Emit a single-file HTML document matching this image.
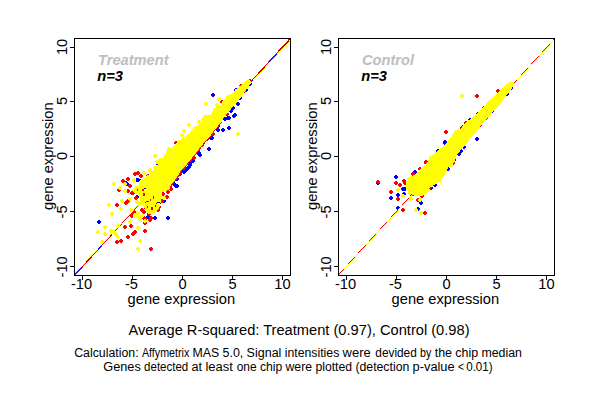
<!DOCTYPE html>
<html><head><meta charset="utf-8"><title>Scatter plots</title>
<style>
html,body{margin:0;padding:0;background:#fff;}
body{width:600px;height:400px;overflow:hidden;font-family:"Liberation Sans",sans-serif;}
svg{display:block;}
text{font-family:"Liberation Sans",sans-serif;fill:#000;}
.t{font-size:14.67px;}
.s{font-size:12px;}
.l{font-size:14.67px;font-weight:bold;font-style:italic;}
</style></head><body>
<svg width="600" height="400" viewBox="0 0 600 400">
<rect width="600" height="400" fill="#fff"/>
<defs>
<clipPath id="c74"><rect x="74" y="38" width="217" height="238"/></clipPath>
<clipPath id="cu"><rect x="160" y="122" width="70" height="66"/></clipPath>
<clipPath id="c338"><rect x="338" y="38" width="217" height="238"/></clipPath>
</defs>
<g clip-path="url(#c74)" shape-rendering="crispEdges">
<path fill="#0000ff" d="M98 220h2v1h1v2h-1v1h-2v-1h-1v-2h1zM147 215h2v1h1v2h-1v1h-2v-1h-1v-2h1zM154 216h2v1h1v2h-1v1h-2v-1h-1v-2h1zM167 216h2v1h1v2h-1v1h-2v-1h-1v-2h1zM126 182h2v1h1v2h-1v1h-2v-1h-1v-2h1zM157 162h2v1h1v2h-1v1h-2v-1h-1v-2h1zM137 178h2v1h1v2h-1v1h-2v-1h-1v-2h1zM136 195h2v1h1v2h-1v1h-2v-1h-1v-2h1zM176 184h2v1h1v2h-1v1h-2v-1h-1v-2h1zM163 199h2v1h1v2h-1v1h-2v-1h-1v-2h1zM158 201h2v1h1v2h-1v1h-2v-1h-1v-2h1zM183 170h2v1h1v2h-1v1h-2v-1h-1v-2h1zM185 168h2v1h1v2h-1v1h-2v-1h-1v-2h1zM187 166h2v1h1v2h-1v1h-2v-1h-1v-2h1zM181 168h2v1h1v2h-1v1h-2v-1h-1v-2h1zM187 166h2v1h1v2h-1v1h-2v-1h-1v-2h1zM188 165h2v1h1v2h-1v1h-2v-1h-1v-2h1zM190 160h2v1h1v2h-1v1h-2v-1h-1v-2h1zM192 159h2v1h1v2h-1v1h-2v-1h-1v-2h1zM198 152h2v1h1v2h-1v1h-2v-1h-1v-2h1zM197 149h2v1h1v2h-1v1h-2v-1h-1v-2h1zM175 184h2v1h1v2h-1v1h-2v-1h-1v-2h1zM158 162h2v1h1v2h-1v1h-2v-1h-1v-2h1zM158 162h2v1h1v2h-1v1h-2v-1h-1v-2h1zM234 113h2v1h1v2h-1v1h-2v-1h-1v-2h1zM230 109h2v1h1v2h-1v1h-2v-1h-1v-2h1zM227 116h2v1h1v2h-1v1h-2v-1h-1v-2h1zM224 117h2v1h1v2h-1v1h-2v-1h-1v-2h1zM233 114h2v1h1v2h-1v1h-2v-1h-1v-2h1zM228 126h2v1h1v2h-1v1h-2v-1h-1v-2h1zM222 128h2v1h1v2h-1v1h-2v-1h-1v-2h1zM217 128h2v1h1v2h-1v1h-2v-1h-1v-2h1zM210 136h2v1h1v2h-1v1h-2v-1h-1v-2h1zM211 136h2v1h1v2h-1v1h-2v-1h-1v-2h1zM208 147h2v1h1v2h-1v1h-2v-1h-1v-2h1zM197 150h2v1h1v2h-1v1h-2v-1h-1v-2h1zM199 153h2v1h1v2h-1v1h-2v-1h-1v-2h1zM198 151h2v1h1v2h-1v1h-2v-1h-1v-2h1zM190 160h2v1h1v2h-1v1h-2v-1h-1v-2h1zM187 166h2v1h1v2h-1v1h-2v-1h-1v-2h1zM189 163h2v1h1v2h-1v1h-2v-1h-1v-2h1zM212 93h2v1h1v2h-1v1h-2v-1h-1v-2h1zM235 88h2v1h1v2h-1v1h-2v-1h-1v-2h1zM249 82h2v1h1v2h-1v1h-2v-1h-1v-2h1zM245 88h2v1h1v2h-1v1h-2v-1h-1v-2h1zM239 96h2v1h1v2h-1v1h-2v-1h-1v-2h1zM237 102h2v1h1v2h-1v1h-2v-1h-1v-2h1zM232 106h2v1h1v2h-1v1h-2v-1h-1v-2h1zM230 108h2v1h1v2h-1v1h-2v-1h-1v-2h1zM234 113h2v1h1v2h-1v1h-2v-1h-1v-2h1zM227 116h2v1h1v2h-1v1h-2v-1h-1v-2h1zM224 117h2v1h1v2h-1v1h-2v-1h-1v-2h1zM228 116h2v1h1v2h-1v1h-2v-1h-1v-2h1zM217 124h2v1h1v2h-1v1h-2v-1h-1v-2h1zM200 123h2v1h1v2h-1v1h-2v-1h-1v-2h1zM168 152h2v1h1v2h-1v1h-2v-1h-1v-2h1zM163 157h2v1h1v2h-1v1h-2v-1h-1v-2h1zM184 166h2v1h1v2h-1v1h-2v-1h-1v-2h1zM179 172h2v1h1v2h-1v1h-2v-1h-1v-2h1zM176 177h2v1h1v2h-1v1h-2v-1h-1v-2h1zM173 182h2v1h1v2h-1v1h-2v-1h-1v-2h1zM146 186h2v1h1v2h-1v1h-2v-1h-1v-2h1zM139 179h2v1h1v2h-1v1h-2v-1h-1v-2h1zM153 170h2v1h1v2h-1v1h-2v-1h-1v-2h1zM125 181h2v1h1v2h-1v1h-2v-1h-1v-2h1zM136 178h2v1h1v2h-1v1h-2v-1h-1v-2h1z"/>
<path fill="#0000ff" d="M290 38h1v1h-1zM289 39h1v1h-1zM288 40h1v2h-1zM287 42h1v1h-1zM286 43h1v1h-1zM285 44h1v1h-1zM284 45h1v1h-1zM283 46h1v1h-1zM282 47h1v1h-1zM281 48h1v1h-1zM280 49h1v1h-1zM279 50h1v1h-1zM278 51h1v2h-1zM277 53h1v1h-1zM276 54h1v1h-1zM275 55h1v1h-1zM274 56h1v1h-1zM273 57h1v1h-1zM272 58h1v1h-1zM271 59h1v1h-1zM270 60h1v1h-1zM269 61h1v1h-1zM268 62h1v1h-1zM267 63h1v2h-1zM266 65h1v1h-1zM265 66h1v1h-1zM264 67h1v1h-1zM263 68h1v1h-1zM262 69h1v1h-1zM261 70h1v1h-1zM260 71h1v1h-1zM259 72h1v1h-1zM258 73h1v1h-1zM257 74h1v1h-1zM256 75h1v2h-1zM255 77h1v1h-1zM254 78h1v1h-1zM253 79h1v1h-1zM252 80h1v1h-1zM251 81h1v1h-1zM250 82h1v1h-1zM249 83h1v1h-1zM248 84h1v1h-1zM247 85h1v1h-1zM246 86h1v1h-1zM245 87h1v2h-1zM244 89h1v1h-1zM243 90h1v1h-1zM242 91h1v1h-1zM241 92h1v1h-1zM240 93h1v1h-1zM239 94h1v1h-1zM238 95h1v1h-1zM237 96h1v1h-1zM236 97h1v1h-1zM235 98h1v1h-1zM234 99h1v2h-1zM233 101h1v1h-1zM232 102h1v1h-1zM231 103h1v1h-1zM230 104h1v1h-1zM229 105h1v1h-1zM228 106h1v1h-1zM227 107h1v1h-1zM226 108h1v1h-1zM225 109h1v1h-1zM224 110h1v2h-1zM223 112h1v1h-1zM222 113h1v1h-1zM221 114h1v1h-1zM220 115h1v1h-1zM219 116h1v1h-1zM218 117h1v1h-1zM217 118h1v1h-1zM216 119h1v1h-1zM215 120h1v1h-1zM214 121h1v1h-1zM213 122h1v2h-1zM212 124h1v1h-1zM211 125h1v1h-1zM210 126h1v1h-1zM209 127h1v1h-1zM208 128h1v1h-1zM207 129h1v1h-1zM206 130h1v1h-1zM205 131h1v1h-1zM204 132h1v1h-1zM203 133h1v1h-1zM202 134h1v2h-1zM201 136h1v1h-1zM200 137h1v1h-1zM199 138h1v1h-1zM198 139h1v1h-1zM197 140h1v1h-1zM196 141h1v1h-1zM195 142h1v1h-1zM194 143h1v1h-1zM193 144h1v1h-1zM192 145h1v1h-1zM191 146h1v2h-1zM190 148h1v1h-1zM189 149h1v1h-1zM188 150h1v1h-1zM187 151h1v1h-1zM186 152h1v1h-1zM185 153h1v1h-1zM184 154h1v1h-1zM183 155h1v1h-1zM182 156h1v1h-1zM181 157h1v1h-1zM180 158h1v2h-1zM179 160h1v1h-1zM178 161h1v1h-1zM177 162h1v1h-1zM176 163h1v1h-1zM175 164h1v1h-1zM174 165h1v1h-1zM173 166h1v1h-1zM172 167h1v1h-1zM171 168h1v1h-1zM170 169h1v2h-1zM169 171h1v1h-1zM168 172h1v1h-1zM167 173h1v1h-1zM166 174h1v1h-1zM165 175h1v1h-1zM164 176h1v1h-1zM163 177h1v1h-1zM162 178h1v1h-1zM161 179h1v1h-1zM160 180h1v1h-1zM159 181h1v2h-1zM158 183h1v1h-1zM157 184h1v1h-1zM156 185h1v1h-1zM155 186h1v1h-1zM154 187h1v1h-1zM153 188h1v1h-1zM152 189h1v1h-1zM151 190h1v1h-1zM150 191h1v1h-1zM149 192h1v1h-1zM148 193h1v2h-1zM147 195h1v1h-1zM146 196h1v1h-1zM145 197h1v1h-1zM144 198h1v1h-1zM143 199h1v1h-1zM142 200h1v1h-1zM141 201h1v1h-1zM140 202h1v1h-1zM139 203h1v1h-1zM138 204h1v1h-1zM137 205h1v2h-1zM136 207h1v1h-1zM135 208h1v1h-1zM134 209h1v1h-1zM133 210h1v1h-1zM132 211h1v1h-1zM131 212h1v1h-1zM130 213h1v1h-1zM129 214h1v1h-1zM128 215h1v1h-1zM127 216h1v1h-1zM126 217h1v2h-1zM125 219h1v1h-1zM124 220h1v1h-1zM123 221h1v1h-1zM122 222h1v1h-1zM121 223h1v1h-1zM120 224h1v1h-1zM119 225h1v1h-1zM118 226h1v1h-1zM117 227h1v1h-1zM116 228h1v2h-1zM115 230h1v1h-1zM114 231h1v1h-1zM113 232h1v1h-1zM112 233h1v1h-1zM111 234h1v1h-1zM110 235h1v1h-1zM109 236h1v1h-1zM108 237h1v1h-1zM107 238h1v1h-1zM106 239h1v1h-1zM105 240h1v2h-1zM104 242h1v1h-1zM103 243h1v1h-1zM102 244h1v1h-1zM101 245h1v1h-1zM100 246h1v1h-1zM99 247h1v1h-1zM98 248h1v1h-1zM97 249h1v1h-1zM96 250h1v1h-1zM95 251h1v1h-1zM94 252h1v2h-1zM93 254h1v1h-1zM92 255h1v1h-1zM91 256h1v1h-1zM90 257h1v1h-1zM89 258h1v1h-1zM88 259h1v1h-1zM87 260h1v1h-1zM86 261h1v1h-1zM85 262h1v1h-1zM84 263h1v1h-1zM83 264h1v2h-1zM82 266h1v1h-1zM81 267h1v1h-1zM80 268h1v1h-1zM79 269h1v1h-1zM78 270h1v1h-1zM77 271h1v1h-1zM76 272h1v1h-1zM75 273h1v1h-1zM74 274h1v1h-1zM73 275h1v1h-1z"/>
<path fill="#ff0000" d="M116 240h2v1h1v2h-1v1h-2v-1h-1v-2h1zM120 239h2v1h1v2h-1v1h-2v-1h-1v-2h1zM124 225h2v1h1v2h-1v1h-2v-1h-1v-2h1zM130 224h2v1h1v2h-1v1h-2v-1h-1v-2h1zM127 235h2v1h1v2h-1v1h-2v-1h-1v-2h1zM132 232h2v1h1v2h-1v1h-2v-1h-1v-2h1zM134 230h2v1h1v2h-1v1h-2v-1h-1v-2h1zM133 231h2v1h1v2h-1v1h-2v-1h-1v-2h1zM144 229h2v1h1v2h-1v1h-2v-1h-1v-2h1zM150 247h2v1h1v2h-1v1h-2v-1h-1v-2h1zM131 214h2v1h1v2h-1v1h-2v-1h-1v-2h1zM144 217h2v1h1v2h-1v1h-2v-1h-1v-2h1zM149 218h2v1h1v2h-1v1h-2v-1h-1v-2h1zM144 221h2v1h1v2h-1v1h-2v-1h-1v-2h1zM150 216h2v1h1v2h-1v1h-2v-1h-1v-2h1zM122 179h2v1h1v2h-1v1h-2v-1h-1v-2h1zM127 177h2v1h1v2h-1v1h-2v-1h-1v-2h1zM129 184h2v1h1v2h-1v1h-2v-1h-1v-2h1zM118 188h2v1h1v2h-1v1h-2v-1h-1v-2h1zM134 172h2v1h1v2h-1v1h-2v-1h-1v-2h1zM137 171h2v1h1v2h-1v1h-2v-1h-1v-2h1zM140 174h2v1h1v2h-1v1h-2v-1h-1v-2h1zM147 174h2v1h1v2h-1v1h-2v-1h-1v-2h1zM116 203h2v1h1v2h-1v1h-2v-1h-1v-2h1zM125 201h2v1h1v2h-1v1h-2v-1h-1v-2h1zM127 199h2v1h1v2h-1v1h-2v-1h-1v-2h1zM133 188h2v1h1v2h-1v1h-2v-1h-1v-2h1zM132 191h2v1h1v2h-1v1h-2v-1h-1v-2h1zM131 213h2v1h1v2h-1v1h-2v-1h-1v-2h1zM166 195h2v1h1v2h-1v1h-2v-1h-1v-2h1zM175 141h2v1h1v2h-1v1h-2v-1h-1v-2h1zM180 140h2v1h1v2h-1v1h-2v-1h-1v-2h1zM212 132h2v1h1v2h-1v1h-2v-1h-1v-2h1zM193 156h2v1h1v2h-1v1h-2v-1h-1v-2h1zM221 100h2v1h1v2h-1v1h-2v-1h-1v-2h1zM240 84h2v1h1v2h-1v1h-2v-1h-1v-2h1zM226 112h2v1h1v2h-1v1h-2v-1h-1v-2h1zM153 170h2v1h1v2h-1v1h-2v-1h-1v-2h1zM127 177h2v1h1v2h-1v1h-2v-1h-1v-2h1zM127 189h2v1h1v2h-1v1h-2v-1h-1v-2h1zM131 191h2v1h1v2h-1v1h-2v-1h-1v-2h1zM162 192h2v1h1v2h-1v1h-2v-1h-1v-2h1zM170 187h2v1h1v2h-1v1h-2v-1h-1v-2h1zM193 156h2v1h1v2h-1v1h-2v-1h-1v-2h1zM170 187h2v1h1v2h-1v1h-2v-1h-1v-2h1zM135 196h2v1h1v2h-1v1h-2v-1h-1v-2h1zM141 208h2v1h1v2h-1v1h-2v-1h-1v-2h1zM143 210h2v1h1v2h-1v1h-2v-1h-1v-2h1zM133 210h2v1h1v2h-1v1h-2v-1h-1v-2h1zM143 216h2v1h1v2h-1v1h-2v-1h-1v-2h1zM148 212h2v1h1v2h-1v1h-2v-1h-1v-2h1zM151 205h2v1h1v2h-1v1h-2v-1h-1v-2h1zM157 208h2v1h1v2h-1v1h-2v-1h-1v-2h1zM145 200h2v1h1v2h-1v1h-2v-1h-1v-2h1zM143 192h2v1h1v2h-1v1h-2v-1h-1v-2h1zM143 188h2v1h1v2h-1v1h-2v-1h-1v-2h1zM206 137h2v1h1v2h-1v1h-2v-1h-1v-2h1zM201 143h2v1h1v2h-1v1h-2v-1h-1v-2h1zM197 148h2v1h1v2h-1v1h-2v-1h-1v-2h1zM189 158h2v1h1v2h-1v1h-2v-1h-1v-2h1zM183 166h2v1h1v2h-1v1h-2v-1h-1v-2h1zM179 171h2v1h1v2h-1v1h-2v-1h-1v-2h1zM175 176h2v1h1v2h-1v1h-2v-1h-1v-2h1zM171 181h2v1h1v2h-1v1h-2v-1h-1v-2h1zM249 79h2v1h1v2h-1v1h-2v-1h-1v-2h1zM141 183h2v1h1v2h-1v1h-2v-1h-1v-2h1zM138 188h2v1h1v2h-1v1h-2v-1h-1v-2h1zM140 194h2v1h1v2h-1v1h-2v-1h-1v-2h1zM142 200h2v1h1v2h-1v1h-2v-1h-1v-2h1zM145 206h2v1h1v2h-1v1h-2v-1h-1v-2h1zM159 200h2v1h1v2h-1v1h-2v-1h-1v-2h1zM158 205h2v1h1v2h-1v1h-2v-1h-1v-2h1zM167 190h2v1h1v2h-1v1h-2v-1h-1v-2h1zM169 184h2v1h1v2h-1v1h-2v-1h-1v-2h1zM243 89h2v1h1v2h-1v1h-2v-1h-1v-2h1zM161 199h2v1h1v2h-1v1h-2v-1h-1v-2h1z"/>
<path fill="#ff0000" d="M289 38h1v1h-1zM288 39h1v2h-1zM287 41h1v1h-1zM286 42h1v1h-1zM285 43h1v1h-1zM284 44h1v1h-1zM283 45h1v1h-1zM282 46h1v1h-1zM281 47h1v1h-1zM280 48h1v1h-1zM279 49h1v1h-1zM278 50h1v2h-1zM277 52h1v1h-1zM276 53h1v1h-1zM275 54h1v1h-1zM274 55h1v1h-1zM273 56h1v1h-1zM272 57h1v1h-1zM271 58h1v1h-1zM270 59h1v1h-1zM269 60h1v1h-1zM268 61h1v2h-1zM267 63h1v1h-1zM266 64h1v1h-1zM265 65h1v1h-1zM264 66h1v1h-1zM263 67h1v1h-1zM262 68h1v1h-1zM261 69h1v1h-1zM260 70h1v1h-1zM259 71h1v1h-1zM258 72h1v2h-1zM257 74h1v1h-1zM256 75h1v1h-1zM255 76h1v1h-1zM254 77h1v1h-1zM253 78h1v1h-1zM252 79h1v1h-1zM251 80h1v1h-1zM250 81h1v1h-1zM249 82h1v1h-1zM248 83h1v2h-1zM247 85h1v1h-1zM246 86h1v1h-1zM245 87h1v1h-1zM244 88h1v1h-1zM243 89h1v1h-1zM242 90h1v1h-1zM241 91h1v1h-1zM240 92h1v1h-1zM239 93h1v2h-1zM238 95h1v1h-1zM237 96h1v1h-1zM236 97h1v1h-1zM235 98h1v1h-1zM234 99h1v1h-1zM233 100h1v1h-1zM232 101h1v1h-1zM231 102h1v1h-1zM230 103h1v1h-1zM229 104h1v2h-1zM228 106h1v1h-1zM227 107h1v1h-1zM226 108h1v1h-1zM225 109h1v1h-1zM224 110h1v1h-1zM223 111h1v1h-1zM222 112h1v1h-1zM221 113h1v1h-1zM220 114h1v1h-1zM219 115h1v2h-1zM218 117h1v1h-1zM217 118h1v1h-1zM216 119h1v1h-1zM215 120h1v1h-1zM214 121h1v1h-1zM213 122h1v1h-1zM212 123h1v1h-1zM211 124h1v1h-1zM210 125h1v1h-1zM209 126h1v2h-1zM208 128h1v1h-1zM207 129h1v1h-1zM206 130h1v1h-1zM205 131h1v1h-1zM204 132h1v1h-1zM203 133h1v1h-1zM202 134h1v1h-1zM201 135h1v1h-1zM200 136h1v1h-1zM199 137h1v2h-1zM198 139h1v1h-1zM197 140h1v1h-1zM196 141h1v1h-1zM195 142h1v1h-1zM194 143h1v1h-1zM193 144h1v1h-1zM192 145h1v1h-1zM191 146h1v1h-1zM190 147h1v2h-1zM189 149h1v1h-1zM188 150h1v1h-1zM187 151h1v1h-1zM186 152h1v1h-1zM185 153h1v1h-1zM184 154h1v1h-1zM183 155h1v1h-1zM182 156h1v1h-1zM181 157h1v1h-1zM180 158h1v2h-1zM179 160h1v1h-1zM178 161h1v1h-1zM177 162h1v1h-1zM176 163h1v1h-1zM175 164h1v1h-1zM174 165h1v1h-1zM173 166h1v1h-1zM172 167h1v1h-1zM171 168h1v1h-1zM170 169h1v2h-1zM169 171h1v1h-1zM168 172h1v1h-1zM167 173h1v1h-1zM166 174h1v1h-1zM165 175h1v1h-1zM164 176h1v1h-1zM163 177h1v1h-1zM162 178h1v1h-1zM161 179h1v1h-1zM160 180h1v2h-1zM159 182h1v1h-1zM158 183h1v1h-1zM157 184h1v1h-1zM156 185h1v1h-1zM155 186h1v1h-1zM154 187h1v1h-1zM153 188h1v1h-1zM152 189h1v1h-1zM151 190h1v1h-1zM150 191h1v2h-1zM149 193h1v1h-1zM148 194h1v1h-1zM147 195h1v1h-1zM146 196h1v1h-1zM145 197h1v1h-1zM144 198h1v1h-1zM143 199h1v1h-1zM142 200h1v1h-1zM141 201h1v1h-1zM140 202h1v2h-1zM139 204h1v1h-1zM138 205h1v1h-1zM137 206h1v1h-1zM136 207h1v1h-1zM135 208h1v1h-1zM134 209h1v1h-1zM133 210h1v1h-1zM132 211h1v1h-1zM131 212h1v2h-1zM130 214h1v1h-1zM129 215h1v1h-1zM128 216h1v1h-1zM127 217h1v1h-1zM126 218h1v1h-1zM125 219h1v1h-1zM124 220h1v1h-1zM123 221h1v1h-1zM122 222h1v1h-1zM121 223h1v2h-1zM120 225h1v1h-1zM119 226h1v1h-1zM118 227h1v1h-1zM117 228h1v1h-1zM116 229h1v1h-1zM115 230h1v1h-1zM114 231h1v1h-1zM113 232h1v1h-1zM112 233h1v1h-1zM111 234h1v2h-1zM110 236h1v1h-1zM109 237h1v1h-1zM108 238h1v1h-1zM107 239h1v1h-1zM106 240h1v1h-1zM105 241h1v1h-1zM104 242h1v1h-1zM103 243h1v1h-1zM102 244h1v1h-1zM101 245h1v2h-1zM100 247h1v1h-1zM99 248h1v1h-1zM98 249h1v1h-1zM97 250h1v1h-1zM96 251h1v1h-1zM95 252h1v1h-1zM94 253h1v1h-1zM93 254h1v1h-1zM92 255h1v1h-1zM91 256h1v2h-1zM90 258h1v1h-1zM89 259h1v1h-1zM88 260h1v1h-1zM87 261h1v1h-1zM86 262h1v1h-1zM85 263h1v1h-1zM84 264h1v1h-1zM83 265h1v1h-1zM82 266h1v2h-1zM81 268h1v1h-1zM80 269h1v1h-1zM79 270h1v1h-1zM78 271h1v1h-1zM77 272h1v1h-1zM76 273h1v1h-1zM75 274h1v1h-1zM74 275h1v1h-1z"/>
<polygon clip-path="url(#cu)" fill="#ff0000" points="150.8,214.7 149.7,214.2 147.9,211.9 147,209.3 144.8,206.2 142.7,203.2 141.3,198.7 140,194.45 139.3,189.7 141.3,184.7 140.3,182.2 145.05,179.45 150.05,175.7 154.4,171.95 158.2,166.95 162.3,161.7 166.3,156.7 168.8,151.2 173.8,148.2 178.8,143.8 181.3,141.3 186.3,137.6 191.3,134.45 195.05,128.2 201.3,125.1 203.8,120.7 207.55,116.7 212.3,115.7 215.7,109.45 222.55,105.7 224.4,101.95 228.8,96.95 233.8,94.45 237.55,90.1 242.55,86.3 247.55,81.3 250.05,80.7 251.8,82.2 249.5,86.95 245.8,91.95 242.1,97.6 238.3,101.95 234.6,106.3 230.8,110.7 227.7,114.45 223.9,119.45 223.1,120.7 219.5,125.7 214.5,131.3 210.8,136.95 205.8,141.95 200.8,148.2 197,153.2 195.3,155.7 190.8,160.7 186.8,165.7 182,170.7 179.3,175.7 175.6,180.7 171.8,185.7 170.3,189.7 166.8,191.2 162.8,192.2 162.3,198.7 161.9,203.2 160.8,206.7 159.3,209.3 157.5,211.9 154.3,213.7 152.3,214.6"/>
<polygon fill="#ffff00" stroke="#ffff00" stroke-width="1" stroke-linejoin="round" points="149.5,214 148.4,213.5 146.6,211.2 145.7,208.6 143.5,205.5 141.4,202.5 140,198 138.7,193.75 138,189 140,184 139,181.5 143.75,178.75 148.75,175 153.1,171.25 156.9,166.25 161,161 165,156 167.5,150.5 172.5,147.5 177.5,143.1 180,140.6 185,136.9 190,133.75 193.75,127.5 200,124.4 202.5,120 206.25,116 211,115 214.4,108.75 221.25,105 223.1,101.25 227.5,96.25 232.5,93.75 236.25,89.4 241.25,85.6 246.25,80.6 248.75,80 250.5,81.5 248.2,86.25 244.5,91.25 240.8,96.9 237,101.25 233.3,105.6 229.5,110 226.4,113.75 222.6,118.75 221.8,120 218.2,125 213.2,130.6 209.5,136.25 204.5,141.25 199.5,147.5 195.7,152.5 194,155 189.5,160 185.5,165 180.7,170 178,175 174.3,180 170.5,185 169,189 165.5,190.5 161.5,191.5 161,198 160.6,202.5 159.5,206 158,208.6 156.2,211.2 153,213 151,213.9"/>
<path fill="#ffff00" d="M104 225h2v1h1v2h-1v1h-2v-1h-1v-2h1zM97 230h2v1h1v2h-1v1h-2v-1h-1v-2h1zM104 232h2v1h1v2h-1v1h-2v-1h-1v-2h1zM110 229h2v1h1v2h-1v1h-2v-1h-1v-2h1zM113 231h2v1h1v2h-1v1h-2v-1h-1v-2h1zM115 232h2v1h1v2h-1v1h-2v-1h-1v-2h1zM117 224h2v1h1v2h-1v1h-2v-1h-1v-2h1zM117 235h2v1h1v2h-1v1h-2v-1h-1v-2h1zM101 240h2v1h1v2h-1v1h-2v-1h-1v-2h1zM129 220h2v1h1v2h-1v1h-2v-1h-1v-2h1zM137 226h2v1h1v2h-1v1h-2v-1h-1v-2h1zM139 239h2v1h1v2h-1v1h-2v-1h-1v-2h1zM137 247h2v1h1v2h-1v1h-2v-1h-1v-2h1zM134 214h2v1h1v2h-1v1h-2v-1h-1v-2h1zM139 217h2v1h1v2h-1v1h-2v-1h-1v-2h1zM144 219h2v1h1v2h-1v1h-2v-1h-1v-2h1zM113 182h2v1h1v2h-1v1h-2v-1h-1v-2h1zM124 182h2v1h1v2h-1v1h-2v-1h-1v-2h1zM119 186h2v1h1v2h-1v1h-2v-1h-1v-2h1zM124 189h2v1h1v2h-1v1h-2v-1h-1v-2h1zM143 171h2v1h1v2h-1v1h-2v-1h-1v-2h1zM149 168h2v1h1v2h-1v1h-2v-1h-1v-2h1zM154 166h2v1h1v2h-1v1h-2v-1h-1v-2h1zM156 160h2v1h1v2h-1v1h-2v-1h-1v-2h1zM133 178h2v1h1v2h-1v1h-2v-1h-1v-2h1zM108 203h2v1h1v2h-1v1h-2v-1h-1v-2h1zM121 199h2v1h1v2h-1v1h-2v-1h-1v-2h1zM129 197h2v1h1v2h-1v1h-2v-1h-1v-2h1zM120 207h2v1h1v2h-1v1h-2v-1h-1v-2h1zM111 212h2v1h1v2h-1v1h-2v-1h-1v-2h1zM130 208h2v1h1v2h-1v1h-2v-1h-1v-2h1zM134 213h2v1h1v2h-1v1h-2v-1h-1v-2h1zM139 215h2v1h1v2h-1v1h-2v-1h-1v-2h1zM188 123h2v1h1v2h-1v1h-2v-1h-1v-2h1zM198 120h2v1h1v2h-1v1h-2v-1h-1v-2h1zM205 115h2v1h1v2h-1v1h-2v-1h-1v-2h1zM202 118h2v1h1v2h-1v1h-2v-1h-1v-2h1zM183 129h2v1h1v2h-1v1h-2v-1h-1v-2h1zM181 133h2v1h1v2h-1v1h-2v-1h-1v-2h1zM178 140h2v1h1v2h-1v1h-2v-1h-1v-2h1zM168 147h2v1h1v2h-1v1h-2v-1h-1v-2h1zM154 154h2v1h1v2h-1v1h-2v-1h-1v-2h1zM159 158h2v1h1v2h-1v1h-2v-1h-1v-2h1zM156 160h2v1h1v2h-1v1h-2v-1h-1v-2h1zM165 154h2v1h1v2h-1v1h-2v-1h-1v-2h1zM154 166h2v1h1v2h-1v1h-2v-1h-1v-2h1zM149 169h2v1h1v2h-1v1h-2v-1h-1v-2h1zM143 171h2v1h1v2h-1v1h-2v-1h-1v-2h1zM133 179h2v1h1v2h-1v1h-2v-1h-1v-2h1zM124 182h2v1h1v2h-1v1h-2v-1h-1v-2h1zM133 188h2v1h1v2h-1v1h-2v-1h-1v-2h1zM135 190h2v1h1v2h-1v1h-2v-1h-1v-2h1zM129 197h2v1h1v2h-1v1h-2v-1h-1v-2h1zM237 132h2v1h1v2h-1v1h-2v-1h-1v-2h1zM218 97h2v1h1v2h-1v1h-2v-1h-1v-2h1zM205 102h2v1h1v2h-1v1h-2v-1h-1v-2h1zM216 103h2v1h1v2h-1v1h-2v-1h-1v-2h1zM227 95h2v1h1v2h-1v1h-2v-1h-1v-2h1zM204 115h2v1h1v2h-1v1h-2v-1h-1v-2h1zM198 120h2v1h1v2h-1v1h-2v-1h-1v-2h1zM133 188h2v1h1v2h-1v1h-2v-1h-1v-2h1zM135 186h2v1h1v2h-1v1h-2v-1h-1v-2h1zM121 199h2v1h1v2h-1v1h-2v-1h-1v-2h1zM136 200h2v1h1v2h-1v1h-2v-1h-1v-2h1zM138 202h2v1h1v2h-1v1h-2v-1h-1v-2h1zM163 196h2v1h1v2h-1v1h-2v-1h-1v-2h1zM137 211h2v1h1v2h-1v1h-2v-1h-1v-2h1zM141 214h2v1h1v2h-1v1h-2v-1h-1v-2h1zM139 216h2v1h1v2h-1v1h-2v-1h-1v-2h1z"/>
<path fill="#ffff00" d="M291 38h1v1h-1zM290 39h1v1h-1zM289 40h1v2h-1zM288 42h1v1h-1zM287 43h1v1h-1zM286 44h1v1h-1zM285 45h1v1h-1zM284 46h1v1h-1zM283 47h1v1h-1zM282 48h1v1h-1zM281 49h1v1h-1zM280 50h1v1h-1zM279 51h1v1h-1zM278 52h1v1h-1zM277 53h1v2h-1zM276 55h1v1h-1zM275 56h1v1h-1zM274 57h1v1h-1zM273 58h1v1h-1zM272 59h1v1h-1zM271 60h1v1h-1zM270 61h1v1h-1zM269 62h1v1h-1zM268 63h1v1h-1zM267 64h1v1h-1zM266 65h1v1h-1zM265 66h1v2h-1zM264 68h1v1h-1zM263 69h1v1h-1zM262 70h1v1h-1zM261 71h1v1h-1zM260 72h1v1h-1zM259 73h1v1h-1zM258 74h1v1h-1zM257 75h1v1h-1zM256 76h1v1h-1zM255 77h1v1h-1zM254 78h1v1h-1zM253 79h1v2h-1zM252 81h1v1h-1zM251 82h1v1h-1zM250 83h1v1h-1zM249 84h1v1h-1zM248 85h1v1h-1zM247 86h1v1h-1zM246 87h1v1h-1zM245 88h1v1h-1zM244 89h1v1h-1zM243 90h1v1h-1zM242 91h1v1h-1zM241 92h1v2h-1zM240 94h1v1h-1zM239 95h1v1h-1zM238 96h1v1h-1zM237 97h1v1h-1zM236 98h1v1h-1zM235 99h1v1h-1zM234 100h1v1h-1zM233 101h1v1h-1zM232 102h1v1h-1zM231 103h1v1h-1zM230 104h1v1h-1zM229 105h1v2h-1zM228 107h1v1h-1zM227 108h1v1h-1zM226 109h1v1h-1zM225 110h1v1h-1zM224 111h1v1h-1zM223 112h1v1h-1zM222 113h1v1h-1zM221 114h1v1h-1zM220 115h1v1h-1zM219 116h1v1h-1zM218 117h1v1h-1zM217 118h1v2h-1zM216 120h1v1h-1zM215 121h1v1h-1zM214 122h1v1h-1zM213 123h1v1h-1zM212 124h1v1h-1zM211 125h1v1h-1zM210 126h1v1h-1zM209 127h1v1h-1zM208 128h1v1h-1zM207 129h1v1h-1zM206 130h1v1h-1zM205 131h1v2h-1zM204 133h1v1h-1zM203 134h1v1h-1zM202 135h1v1h-1zM201 136h1v1h-1zM200 137h1v1h-1zM199 138h1v1h-1zM198 139h1v1h-1zM197 140h1v1h-1zM196 141h1v1h-1zM195 142h1v1h-1zM194 143h1v1h-1zM193 144h1v2h-1zM192 146h1v1h-1zM191 147h1v1h-1zM190 148h1v1h-1zM189 149h1v1h-1zM188 150h1v1h-1zM187 151h1v1h-1zM186 152h1v1h-1zM185 153h1v1h-1zM184 154h1v1h-1zM183 155h1v1h-1zM182 156h1v1h-1zM181 157h1v2h-1zM180 159h1v1h-1zM179 160h1v1h-1zM178 161h1v1h-1zM177 162h1v1h-1zM176 163h1v1h-1zM175 164h1v1h-1zM174 165h1v1h-1zM173 166h1v1h-1zM172 167h1v1h-1zM171 168h1v1h-1zM170 169h1v1h-1zM169 170h1v2h-1zM168 172h1v1h-1zM167 173h1v1h-1zM166 174h1v1h-1zM165 175h1v1h-1zM164 176h1v1h-1zM163 177h1v1h-1zM162 178h1v1h-1zM161 179h1v1h-1zM160 180h1v1h-1zM159 181h1v1h-1zM158 182h1v1h-1zM157 183h1v2h-1zM156 185h1v1h-1zM155 186h1v1h-1zM154 187h1v1h-1zM153 188h1v1h-1zM152 189h1v1h-1zM151 190h1v1h-1zM150 191h1v1h-1zM149 192h1v1h-1zM148 193h1v1h-1zM147 194h1v1h-1zM146 195h1v1h-1zM145 196h1v2h-1zM144 198h1v1h-1zM143 199h1v1h-1zM142 200h1v1h-1zM141 201h1v1h-1zM140 202h1v1h-1zM139 203h1v1h-1zM138 204h1v1h-1zM137 205h1v1h-1zM136 206h1v1h-1zM135 207h1v1h-1zM134 208h1v1h-1zM133 209h1v2h-1zM132 211h1v1h-1zM131 212h1v1h-1zM130 213h1v1h-1zM129 214h1v1h-1zM128 215h1v1h-1zM127 216h1v1h-1zM126 217h1v1h-1zM125 218h1v1h-1zM124 219h1v1h-1zM123 220h1v1h-1zM122 221h1v1h-1zM121 222h1v2h-1zM120 224h1v1h-1zM119 225h1v1h-1zM118 226h1v1h-1zM117 227h1v1h-1zM116 228h1v1h-1zM115 229h1v1h-1zM114 230h1v1h-1zM113 231h1v1h-1zM112 232h1v1h-1zM111 233h1v1h-1zM110 234h1v1h-1zM109 235h1v2h-1zM108 237h1v1h-1zM107 238h1v1h-1zM106 239h1v1h-1zM105 240h1v1h-1zM104 241h1v1h-1zM103 242h1v1h-1zM102 243h1v1h-1zM101 244h1v1h-1zM100 245h1v1h-1zM99 246h1v1h-1zM98 247h1v1h-1zM97 248h1v2h-1zM96 250h1v1h-1zM95 251h1v1h-1zM94 252h1v1h-1zM93 253h1v1h-1zM92 254h1v1h-1zM91 255h1v1h-1zM90 256h1v1h-1zM89 257h1v1h-1zM88 258h1v1h-1zM87 259h1v1h-1zM86 260h1v1h-1zM85 261h1v2h-1zM84 263h1v1h-1zM83 264h1v1h-1zM82 265h1v1h-1zM81 266h1v1h-1zM80 267h1v1h-1zM79 268h1v1h-1zM78 269h1v1h-1zM77 270h1v1h-1zM76 271h1v1h-1zM75 272h1v1h-1zM74 273h1v1h-1zM73 274h1v2h-1z"/>
<rect x="142" y="189" width="2" height="2" fill="#ff0000"/><rect x="144" y="188" width="2" height="1" fill="#0000ff"/><rect x="143" y="193" width="2" height="3" fill="#ff0000"/><rect x="153" y="196" width="1" height="3" fill="#ff0000"/><rect x="146" y="201" width="3" height="1" fill="#ff0000"/><rect x="145" y="202" width="1" height="1" fill="#ff0000"/><rect x="151" y="207" width="2" height="3" fill="#ff0000"/><rect x="157" y="202" width="3" height="1" fill="#0000ff"/><rect x="156" y="203" width="1" height="1" fill="#0000ff"/><rect x="160" y="203" width="1" height="1" fill="#0000ff"/><rect x="148" y="191" width="1" height="1" fill="#fff"/><rect x="150" y="199" width="1" height="2" fill="#ff0000"/><rect x="155" y="205" width="1" height="2" fill="#ff0000"/><rect x="147" y="206" width="1" height="2" fill="#ff0000"/>
</g>
<rect x="74.5" y="38.5" width="216" height="237" fill="none" stroke="#000" stroke-width="1" shape-rendering="crispEdges"/>
<rect x="282" y="276" width="1" height="4" fill="#000"/>
<rect x="70" y="47" width="4" height="1" fill="#000"/>
<text x="282.50" y="288.8" text-anchor="middle" class="t">10</text>
<text transform="translate(66.6,46.90) rotate(-90)" text-anchor="middle" class="t">10</text>
<rect x="232" y="276" width="1" height="4" fill="#000"/>
<rect x="70" y="101" width="4" height="1" fill="#000"/>
<text x="232.50" y="288.8" text-anchor="middle" class="t">5</text>
<text transform="translate(66.6,100.90) rotate(-90)" text-anchor="middle" class="t">5</text>
<rect x="182" y="276" width="1" height="4" fill="#000"/>
<rect x="70" y="156" width="4" height="1" fill="#000"/>
<text x="182.50" y="288.8" text-anchor="middle" class="t">0</text>
<text transform="translate(66.6,155.90) rotate(-90)" text-anchor="middle" class="t">0</text>
<rect x="132" y="276" width="1" height="4" fill="#000"/>
<rect x="70" y="211" width="4" height="1" fill="#000"/>
<text x="131.50" y="288.8" text-anchor="middle" class="t">-5</text>
<text transform="translate(66.6,211.90) rotate(-90)" text-anchor="middle" class="t">-5</text>
<rect x="82" y="276" width="1" height="4" fill="#000"/>
<rect x="70" y="266" width="4" height="1" fill="#000"/>
<text x="81.50" y="288.8" text-anchor="middle" class="t">-10</text>
<text transform="translate(66.6,266.90) rotate(-90)" text-anchor="middle" class="t">-10</text>
<text x="181.40" y="304" text-anchor="middle" class="t">gene expression</text>
<text transform="translate(53.2,156.2) rotate(-90)" text-anchor="middle" class="t">gene expression</text>
<g clip-path="url(#c338)" shape-rendering="crispEdges">
<path fill="#0000ff" d="M377 181h2v1h1v2h-1v1h-2v-1h-1v-2h1zM395 175h2v1h1v2h-1v1h-2v-1h-1v-2h1zM402 187h2v1h1v2h-1v1h-2v-1h-1v-2h1zM404 187h2v1h1v2h-1v1h-2v-1h-1v-2h1zM397 193h2v1h1v2h-1v1h-2v-1h-1v-2h1zM390 196h2v1h1v2h-1v1h-2v-1h-1v-2h1zM403 192h2v1h1v2h-1v1h-2v-1h-1v-2h1zM397 206h2v1h1v2h-1v1h-2v-1h-1v-2h1zM417 207h2v1h1v2h-1v1h-2v-1h-1v-2h1zM420 201h2v1h1v2h-1v1h-2v-1h-1v-2h1zM414 170h2v1h1v2h-1v1h-2v-1h-1v-2h1zM437 149h2v1h1v2h-1v1h-2v-1h-1v-2h1zM444 141h2v1h1v2h-1v1h-2v-1h-1v-2h1zM437 149h2v1h1v2h-1v1h-2v-1h-1v-2h1zM434 183h2v1h1v2h-1v1h-2v-1h-1v-2h1zM430 186h2v1h1v2h-1v1h-2v-1h-1v-2h1zM443 170h2v1h1v2h-1v1h-2v-1h-1v-2h1zM447 167h2v1h1v2h-1v1h-2v-1h-1v-2h1zM458 152h2v1h1v2h-1v1h-2v-1h-1v-2h1zM476 137h2v1h1v2h-1v1h-2v-1h-1v-2h1zM463 145h2v1h1v2h-1v1h-2v-1h-1v-2h1zM460 149h2v1h1v2h-1v1h-2v-1h-1v-2h1zM458 151h2v1h1v2h-1v1h-2v-1h-1v-2h1zM469 118h2v1h1v2h-1v1h-2v-1h-1v-2h1zM462 125h2v1h1v2h-1v1h-2v-1h-1v-2h1zM506 92h2v1h1v2h-1v1h-2v-1h-1v-2h1zM510 86h2v1h1v2h-1v1h-2v-1h-1v-2h1zM491 109h2v1h1v2h-1v1h-2v-1h-1v-2h1zM477 112h2v1h1v2h-1v1h-2v-1h-1v-2h1zM469 118h2v1h1v2h-1v1h-2v-1h-1v-2h1zM444 140h2v1h1v2h-1v1h-2v-1h-1v-2h1zM463 145h2v1h1v2h-1v1h-2v-1h-1v-2h1zM453 158h2v1h1v2h-1v1h-2v-1h-1v-2h1zM439 176h2v1h1v2h-1v1h-2v-1h-1v-2h1zM409 178h2v1h1v2h-1v1h-2v-1h-1v-2h1zM417 173h2v1h1v2h-1v1h-2v-1h-1v-2h1z"/>

<path fill="#ff0000" d="M377 180h2v1h1v2h-1v1h-2v-1h-1v-2h1zM395 181h2v1h1v2h-1v1h-2v-1h-1v-2h1zM399 183h2v1h1v2h-1v1h-2v-1h-1v-2h1zM403 179h2v1h1v2h-1v1h-2v-1h-1v-2h1zM404 181h2v1h1v2h-1v1h-2v-1h-1v-2h1zM390 190h2v1h1v2h-1v1h-2v-1h-1v-2h1zM397 197h2v1h1v2h-1v1h-2v-1h-1v-2h1zM402 208h2v1h1v2h-1v1h-2v-1h-1v-2h1zM424 211h2v1h1v2h-1v1h-2v-1h-1v-2h1zM412 192h2v1h1v2h-1v1h-2v-1h-1v-2h1zM412 172h2v1h1v2h-1v1h-2v-1h-1v-2h1zM419 167h2v1h1v2h-1v1h-2v-1h-1v-2h1zM425 161h2v1h1v2h-1v1h-2v-1h-1v-2h1zM445 130h2v1h1v2h-1v1h-2v-1h-1v-2h1zM476 94h2v1h1v2h-1v1h-2v-1h-1v-2h1zM497 89h2v1h1v2h-1v1h-2v-1h-1v-2h1zM425 160h2v1h1v2h-1v1h-2v-1h-1v-2h1zM437 151h2v1h1v2h-1v1h-2v-1h-1v-2h1zM429 185h2v1h1v2h-1v1h-2v-1h-1v-2h1zM442 172h2v1h1v2h-1v1h-2v-1h-1v-2h1zM456 148h2v1h1v2h-1v1h-2v-1h-1v-2h1zM469 134h2v1h1v2h-1v1h-2v-1h-1v-2h1zM479 123h2v1h1v2h-1v1h-2v-1h-1v-2h1zM497 102h2v1h1v2h-1v1h-2v-1h-1v-2h1zM485 116h2v1h1v2h-1v1h-2v-1h-1v-2h1zM452 161h2v1h1v2h-1v1h-2v-1h-1v-2h1zM461 126h2v1h1v2h-1v1h-2v-1h-1v-2h1zM465 121h2v1h1v2h-1v1h-2v-1h-1v-2h1zM483 106h2v1h1v2h-1v1h-2v-1h-1v-2h1zM408 185h2v1h1v2h-1v1h-2v-1h-1v-2h1zM410 192h2v1h1v2h-1v1h-2v-1h-1v-2h1zM417 198h2v1h1v2h-1v1h-2v-1h-1v-2h1zM421 194h2v1h1v2h-1v1h-2v-1h-1v-2h1z"/>
<path fill="#ff0000" d="M554 38h1v1h-1zM553 39h1v2h-1zM552 41h1v1h-1zM551 42h1v1h-1zM550 43h1v1h-1zM549 44h1v1h-1zM548 45h1v1h-1zM547 46h1v1h-1zM546 47h1v1h-1zM545 48h1v1h-1zM544 49h1v1h-1zM543 50h1v1h-1zM542 51h1v2h-1zM541 53h1v1h-1zM540 54h1v1h-1zM539 55h1v1h-1zM538 56h1v1h-1zM537 57h1v1h-1zM536 58h1v1h-1zM535 59h1v1h-1zM534 60h1v1h-1zM533 61h1v1h-1zM532 62h1v1h-1zM531 63h1v2h-1zM530 65h1v1h-1zM529 66h1v1h-1zM528 67h1v1h-1zM527 68h1v1h-1zM526 69h1v1h-1zM525 70h1v1h-1zM524 71h1v1h-1zM523 72h1v1h-1zM522 73h1v1h-1zM521 74h1v2h-1zM520 76h1v1h-1zM519 77h1v1h-1zM518 78h1v1h-1zM517 79h1v1h-1zM516 80h1v1h-1zM515 81h1v1h-1zM514 82h1v1h-1zM513 83h1v1h-1zM512 84h1v1h-1zM511 85h1v1h-1zM510 86h1v2h-1zM509 88h1v1h-1zM508 89h1v1h-1zM507 90h1v1h-1zM506 91h1v1h-1zM505 92h1v1h-1zM504 93h1v1h-1zM503 94h1v1h-1zM502 95h1v1h-1zM501 96h1v1h-1zM500 97h1v1h-1zM499 98h1v2h-1zM498 100h1v1h-1zM497 101h1v1h-1zM496 102h1v1h-1zM495 103h1v1h-1zM494 104h1v1h-1zM493 105h1v1h-1zM492 106h1v1h-1zM491 107h1v1h-1zM490 108h1v1h-1zM489 109h1v1h-1zM488 110h1v2h-1zM487 112h1v1h-1zM486 113h1v1h-1zM485 114h1v1h-1zM484 115h1v1h-1zM483 116h1v1h-1zM482 117h1v1h-1zM481 118h1v1h-1zM480 119h1v1h-1zM479 120h1v1h-1zM478 121h1v1h-1zM477 122h1v2h-1zM476 124h1v1h-1zM475 125h1v1h-1zM474 126h1v1h-1zM473 127h1v1h-1zM472 128h1v1h-1zM471 129h1v1h-1zM470 130h1v1h-1zM469 131h1v1h-1zM468 132h1v1h-1zM467 133h1v2h-1zM466 135h1v1h-1zM465 136h1v1h-1zM464 137h1v1h-1zM463 138h1v1h-1zM462 139h1v1h-1zM461 140h1v1h-1zM460 141h1v1h-1zM459 142h1v1h-1zM458 143h1v1h-1zM457 144h1v1h-1zM456 145h1v2h-1zM455 147h1v1h-1zM454 148h1v1h-1zM453 149h1v1h-1zM452 150h1v1h-1zM451 151h1v1h-1zM450 152h1v1h-1zM449 153h1v1h-1zM448 154h1v1h-1zM447 155h1v1h-1zM446 156h1v1h-1zM445 157h1v2h-1zM444 159h1v1h-1zM443 160h1v1h-1zM442 161h1v1h-1zM441 162h1v1h-1zM440 163h1v1h-1zM439 164h1v1h-1zM438 165h1v1h-1zM437 166h1v1h-1zM436 167h1v1h-1zM435 168h1v1h-1zM434 169h1v2h-1zM433 171h1v1h-1zM432 172h1v1h-1zM431 173h1v1h-1zM430 174h1v1h-1zM429 175h1v1h-1zM428 176h1v1h-1zM427 177h1v1h-1zM426 178h1v1h-1zM425 179h1v1h-1zM424 180h1v1h-1zM423 181h1v2h-1zM422 183h1v1h-1zM421 184h1v1h-1zM420 185h1v1h-1zM419 186h1v1h-1zM418 187h1v1h-1zM417 188h1v1h-1zM416 189h1v1h-1zM415 190h1v1h-1zM414 191h1v1h-1zM413 192h1v2h-1zM412 194h1v1h-1zM411 195h1v1h-1zM410 196h1v1h-1zM409 197h1v1h-1zM408 198h1v1h-1zM407 199h1v1h-1zM406 200h1v1h-1zM405 201h1v1h-1zM404 202h1v1h-1zM403 203h1v1h-1zM402 204h1v2h-1zM401 206h1v1h-1zM400 207h1v1h-1zM399 208h1v1h-1zM398 209h1v1h-1zM397 210h1v1h-1zM396 211h1v1h-1zM395 212h1v1h-1zM394 213h1v1h-1zM393 214h1v1h-1zM392 215h1v1h-1zM391 216h1v2h-1zM390 218h1v1h-1zM389 219h1v1h-1zM388 220h1v1h-1zM387 221h1v1h-1zM386 222h1v1h-1zM385 223h1v1h-1zM384 224h1v1h-1zM383 225h1v1h-1zM382 226h1v1h-1zM381 227h1v1h-1zM380 228h1v2h-1zM379 230h1v1h-1zM378 231h1v1h-1zM377 232h1v1h-1zM376 233h1v1h-1zM375 234h1v1h-1zM374 235h1v1h-1zM373 236h1v1h-1zM372 237h1v1h-1zM371 238h1v1h-1zM370 239h1v1h-1zM369 240h1v2h-1zM368 242h1v1h-1zM367 243h1v1h-1zM366 244h1v1h-1zM365 245h1v1h-1zM364 246h1v1h-1zM363 247h1v1h-1zM362 248h1v1h-1zM361 249h1v1h-1zM360 250h1v1h-1zM359 251h1v1h-1zM358 252h1v2h-1zM357 254h1v1h-1zM356 255h1v1h-1zM355 256h1v1h-1zM354 257h1v1h-1zM353 258h1v1h-1zM352 259h1v1h-1zM351 260h1v1h-1zM350 261h1v1h-1zM349 262h1v1h-1zM348 263h1v2h-1zM347 265h1v1h-1zM346 266h1v1h-1zM345 267h1v1h-1zM344 268h1v1h-1zM343 269h1v1h-1zM342 270h1v1h-1zM341 271h1v1h-1zM340 272h1v1h-1zM339 273h1v1h-1zM338 274h1v1h-1zM337 275h1v1h-1z"/>

<polygon fill="#ffff00" stroke="#ffff00" stroke-width="1" stroke-linejoin="round" points="417.5,195.25 411.9,193.75 406.9,190 406.25,183.75 408.1,177.5 415,175.5 421,169.5 427.5,163 430,157.5 436.25,152.5 442.5,147.5 447.5,142.5 452.5,136.25 455,131.25 461.25,128.75 465,123.75 470,120 477.5,113.75 485,106.25 487.5,102.5 493.75,97.5 498.75,92.5 503.75,87.5 508.75,83.1 511.25,81.9 513.1,83.75 511.25,88.75 506.25,95 502.5,100 498.75,105 493.75,110 490,115 485,120 480,126.25 475,132.5 470,137.5 466.25,143.75 461.25,148.75 456.25,155 454,162 448,166.5 444,176 437.5,182.5 431.25,186.25 428.75,187.5 428.1,191.9 422.5,195.25"/>
<path fill="#ffff00" d="M397 188h2v1h1v2h-1v1h-2v-1h-1v-2h1zM402 194h2v1h1v2h-1v1h-2v-1h-1v-2h1zM415 208h2v1h1v2h-1v1h-2v-1h-1v-2h1zM420 211h2v1h1v2h-1v1h-2v-1h-1v-2h1zM419 198h2v1h1v2h-1v1h-2v-1h-1v-2h1zM410 197h2v1h1v2h-1v1h-2v-1h-1v-2h1zM407 183h2v1h1v2h-1v1h-2v-1h-1v-2h1zM439 179h2v1h1v2h-1v1h-2v-1h-1v-2h1zM450 163h2v1h1v2h-1v1h-2v-1h-1v-2h1zM461 94h2v1h1v2h-1v1h-2v-1h-1v-2h1zM455 130h2v1h1v2h-1v1h-2v-1h-1v-2h1zM409 191h2v1h1v2h-1v1h-2v-1h-1v-2h1z"/>
<path fill="#ffff00" d="M555 38h1v1h-1zM554 39h1v1h-1zM553 40h1v1h-1zM552 41h1v1h-1zM551 42h1v1h-1zM550 43h1v2h-1zM549 45h1v1h-1zM548 46h1v1h-1zM547 47h1v1h-1zM546 48h1v1h-1zM545 49h1v1h-1zM544 50h1v1h-1zM543 51h1v1h-1zM542 52h1v1h-1zM541 53h1v1h-1zM540 54h1v1h-1zM539 55h1v2h-1zM538 57h1v1h-1zM537 58h1v1h-1zM536 59h1v1h-1zM535 60h1v1h-1zM534 61h1v1h-1zM533 62h1v1h-1zM532 63h1v1h-1zM531 64h1v1h-1zM530 65h1v1h-1zM529 66h1v1h-1zM528 67h1v2h-1zM527 69h1v1h-1zM526 70h1v1h-1zM525 71h1v1h-1zM524 72h1v1h-1zM523 73h1v1h-1zM522 74h1v1h-1zM521 75h1v1h-1zM520 76h1v1h-1zM519 77h1v1h-1zM518 78h1v1h-1zM517 79h1v2h-1zM516 81h1v1h-1zM515 82h1v1h-1zM514 83h1v1h-1zM513 84h1v1h-1zM512 85h1v1h-1zM511 86h1v1h-1zM510 87h1v1h-1zM509 88h1v1h-1zM508 89h1v1h-1zM507 90h1v2h-1zM506 92h1v1h-1zM505 93h1v1h-1zM504 94h1v1h-1zM503 95h1v1h-1zM502 96h1v1h-1zM501 97h1v1h-1zM500 98h1v1h-1zM499 99h1v1h-1zM498 100h1v1h-1zM497 101h1v1h-1zM496 102h1v2h-1zM495 104h1v1h-1zM494 105h1v1h-1zM493 106h1v1h-1zM492 107h1v1h-1zM491 108h1v1h-1zM490 109h1v1h-1zM489 110h1v1h-1zM488 111h1v1h-1zM487 112h1v1h-1zM486 113h1v1h-1zM485 114h1v2h-1zM484 116h1v1h-1zM483 117h1v1h-1zM482 118h1v1h-1zM481 119h1v1h-1zM480 120h1v1h-1zM479 121h1v1h-1zM478 122h1v1h-1zM477 123h1v1h-1zM476 124h1v1h-1zM475 125h1v1h-1zM474 126h1v2h-1zM473 128h1v1h-1zM472 129h1v1h-1zM471 130h1v1h-1zM470 131h1v1h-1zM469 132h1v1h-1zM468 133h1v1h-1zM467 134h1v1h-1zM466 135h1v1h-1zM465 136h1v1h-1zM464 137h1v1h-1zM463 138h1v2h-1zM462 140h1v1h-1zM461 141h1v1h-1zM460 142h1v1h-1zM459 143h1v1h-1zM458 144h1v1h-1zM457 145h1v1h-1zM456 146h1v1h-1zM455 147h1v1h-1zM454 148h1v1h-1zM453 149h1v1h-1zM452 150h1v2h-1zM451 152h1v1h-1zM450 153h1v1h-1zM449 154h1v1h-1zM448 155h1v1h-1zM447 156h1v1h-1zM446 157h1v1h-1zM445 158h1v1h-1zM444 159h1v1h-1zM443 160h1v1h-1zM442 161h1v2h-1zM441 163h1v1h-1zM440 164h1v1h-1zM439 165h1v1h-1zM438 166h1v1h-1zM437 167h1v1h-1zM436 168h1v1h-1zM435 169h1v1h-1zM434 170h1v1h-1zM433 171h1v1h-1zM432 172h1v1h-1zM431 173h1v2h-1zM430 175h1v1h-1zM429 176h1v1h-1zM428 177h1v1h-1zM427 178h1v1h-1zM426 179h1v1h-1zM425 180h1v1h-1zM424 181h1v1h-1zM423 182h1v1h-1zM422 183h1v1h-1zM421 184h1v1h-1zM420 185h1v2h-1zM419 187h1v1h-1zM418 188h1v1h-1zM417 189h1v1h-1zM416 190h1v1h-1zM415 191h1v1h-1zM414 192h1v1h-1zM413 193h1v1h-1zM412 194h1v1h-1zM411 195h1v1h-1zM410 196h1v1h-1zM409 197h1v2h-1zM408 199h1v1h-1zM407 200h1v1h-1zM406 201h1v1h-1zM405 202h1v1h-1zM404 203h1v1h-1zM403 204h1v1h-1zM402 205h1v1h-1zM401 206h1v1h-1zM400 207h1v1h-1zM399 208h1v1h-1zM398 209h1v2h-1zM397 211h1v1h-1zM396 212h1v1h-1zM395 213h1v1h-1zM394 214h1v1h-1zM393 215h1v1h-1zM392 216h1v1h-1zM391 217h1v1h-1zM390 218h1v1h-1zM389 219h1v1h-1zM388 220h1v1h-1zM387 221h1v2h-1zM386 223h1v1h-1zM385 224h1v1h-1zM384 225h1v1h-1zM383 226h1v1h-1zM382 227h1v1h-1zM381 228h1v1h-1zM380 229h1v1h-1zM379 230h1v1h-1zM378 231h1v1h-1zM377 232h1v1h-1zM376 233h1v2h-1zM375 235h1v1h-1zM374 236h1v1h-1zM373 237h1v1h-1zM372 238h1v1h-1zM371 239h1v1h-1zM370 240h1v1h-1zM369 241h1v1h-1zM368 242h1v1h-1zM367 243h1v1h-1zM366 244h1v2h-1zM365 246h1v1h-1zM364 247h1v1h-1zM363 248h1v1h-1zM362 249h1v1h-1zM361 250h1v1h-1zM360 251h1v1h-1zM359 252h1v1h-1zM358 253h1v1h-1zM357 254h1v1h-1zM356 255h1v1h-1zM355 256h1v2h-1zM354 258h1v1h-1zM353 259h1v1h-1zM352 260h1v1h-1zM351 261h1v1h-1zM350 262h1v1h-1zM349 263h1v1h-1zM348 264h1v1h-1zM347 265h1v1h-1zM346 266h1v1h-1zM345 267h1v1h-1zM344 268h1v2h-1zM343 270h1v1h-1zM342 271h1v1h-1zM341 272h1v1h-1zM340 273h1v1h-1zM339 274h1v1h-1zM338 275h1v1h-1z"/>

</g>
<rect x="338.5" y="38.5" width="216" height="237" fill="none" stroke="#000" stroke-width="1" shape-rendering="crispEdges"/>
<rect x="546" y="276" width="1" height="4" fill="#000"/>
<rect x="334" y="47" width="4" height="1" fill="#000"/>
<text x="546.50" y="288.8" text-anchor="middle" class="t">10</text>
<text transform="translate(330.6,46.90) rotate(-90)" text-anchor="middle" class="t">10</text>
<rect x="496" y="276" width="1" height="4" fill="#000"/>
<rect x="334" y="101" width="4" height="1" fill="#000"/>
<text x="496.50" y="288.8" text-anchor="middle" class="t">5</text>
<text transform="translate(330.6,100.90) rotate(-90)" text-anchor="middle" class="t">5</text>
<rect x="446" y="276" width="1" height="4" fill="#000"/>
<rect x="334" y="156" width="4" height="1" fill="#000"/>
<text x="446.50" y="288.8" text-anchor="middle" class="t">0</text>
<text transform="translate(330.6,155.90) rotate(-90)" text-anchor="middle" class="t">0</text>
<rect x="396" y="276" width="1" height="4" fill="#000"/>
<rect x="334" y="211" width="4" height="1" fill="#000"/>
<text x="395.50" y="288.8" text-anchor="middle" class="t">-5</text>
<text transform="translate(330.6,211.90) rotate(-90)" text-anchor="middle" class="t">-5</text>
<rect x="346" y="276" width="1" height="4" fill="#000"/>
<rect x="334" y="266" width="4" height="1" fill="#000"/>
<text x="345.50" y="288.8" text-anchor="middle" class="t">-10</text>
<text transform="translate(330.6,266.90) rotate(-90)" text-anchor="middle" class="t">-10</text>
<text x="445.40" y="304" text-anchor="middle" class="t">gene expression</text>
<text transform="translate(317.2,156.2) rotate(-90)" text-anchor="middle" class="t">gene expression</text>
<text x="98" y="65" class="l" style="fill:#bebebe">Treatment</text>
<text x="97.3" y="81" class="l">n=3</text>
<text x="362" y="65" class="l" style="fill:#bebebe">Control</text>
<text x="361.3" y="81" class="l">n=3</text>
<text x="299" y="335" text-anchor="middle" class="t">Average R-squared: Treatment (0.97), Control (0.98)</text>
<text x="74.2" y="357" class="s" textLength="64.4" lengthAdjust="spacingAndGlyphs">Calculation:</text><text x="141.9" y="357" class="s" textLength="47.4" lengthAdjust="spacingAndGlyphs">Affymetrix</text><text x="192.6" y="357" class="s" textLength="26.7" lengthAdjust="spacingAndGlyphs">MAS</text><text x="222.6" y="357" class="s" textLength="20.7" lengthAdjust="spacingAndGlyphs">5.0,</text><text x="246.6" y="357" class="s" textLength="34.8" lengthAdjust="spacingAndGlyphs">Signal</text><text x="284.7" y="357" class="s" textLength="54.6" lengthAdjust="spacingAndGlyphs">intensities</text><text x="342.6" y="357" class="s" textLength="28.1" lengthAdjust="spacingAndGlyphs">were</text><text x="375.3" y="357" class="s" textLength="41.5" lengthAdjust="spacingAndGlyphs">devided</text><text x="420.1" y="357" class="s" textLength="11.3" lengthAdjust="spacingAndGlyphs">by</text><text x="434.7" y="357" class="s" textLength="17.3" lengthAdjust="spacingAndGlyphs">the</text><text x="455.3" y="357" class="s" textLength="22.8" lengthAdjust="spacingAndGlyphs">chip</text><text x="481.4" y="357" class="s" textLength="40.5" lengthAdjust="spacingAndGlyphs">median</text>
<text x="103.3" y="371" class="s" textLength="37.5" lengthAdjust="spacingAndGlyphs">Genes</text><text x="144.1" y="371" class="s" textLength="44.1" lengthAdjust="spacingAndGlyphs">detected</text><text x="191.5" y="371" class="s" textLength="10.6" lengthAdjust="spacingAndGlyphs">at</text><text x="205.4" y="371" class="s" textLength="27.4" lengthAdjust="spacingAndGlyphs">least</text><text x="236.7" y="371" class="s" textLength="19.9" lengthAdjust="spacingAndGlyphs">one</text><text x="259.9" y="371" class="s" textLength="22.3" lengthAdjust="spacingAndGlyphs">chip</text><text x="285.5" y="371" class="s" textLength="26.6" lengthAdjust="spacingAndGlyphs">were</text><text x="315.4" y="371" class="s" textLength="36.7" lengthAdjust="spacingAndGlyphs">plotted</text><text x="355.4" y="371" class="s" textLength="53.9" lengthAdjust="spacingAndGlyphs">(detection</text><text x="412.6" y="371" class="s" textLength="42.0" lengthAdjust="spacingAndGlyphs">p-value</text><text x="457.9" y="371" class="s" textLength="6.0" lengthAdjust="spacingAndGlyphs">&lt;</text><text x="466.2" y="371" class="s" textLength="26.4" lengthAdjust="spacingAndGlyphs">0.01)</text>
</svg>
</body></html>
